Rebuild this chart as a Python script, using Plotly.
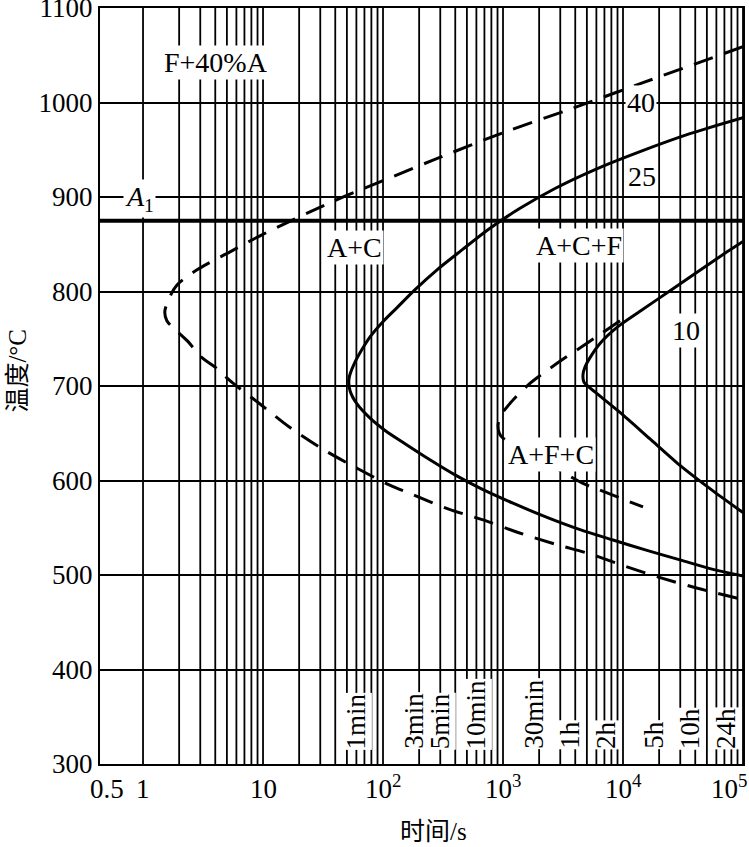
import math
import plotly.graph_objects as go

# ---------------- data (time in s, temperature in °C) ----------------
A1_TEMP = 875

c40_t = [1e5, 14680, 3830, 1000, 261, 94.4, 36.2, 9.8, 5.31, 2.82, 1.92, 1.68, 1.52, 1.58,
         1.92, 2.33, 3.10, 3.98, 5.62, 9.44, 16.8, 31.6, 60.7, 114, 178, 348, 695, 1334,
         2660, 5410, 10590, 20740, 41770, 1e5]
c40_T = [1059, 1021, 994, 968, 939, 916, 894, 860, 842, 823, 807, 795, 779, 769,
         758, 748, 730, 720, 703, 681, 656, 633, 613, 595, 585, 570, 558, 545,
         533, 522, 509, 497, 486, 474]

c25_t = [1e5, 36140, 13860, 5845, 2712, 1386, 779, 455, 282, 185, 131, 98.1, 78, 65.6,
         57.3, 52.1, 53.1, 60.7, 78, 104, 152.5, 246, 398, 643, 1211, 2326, 4385, 8250,
         15850, 29850, 56230, 1e5]
c25_T = [984, 967, 948, 929, 909, 888, 867, 844, 823, 802, 783, 767, 752, 737,
         723, 708, 695, 681, 666, 653, 639, 622, 606, 592, 576, 561, 548, 537,
         526, 516, 506, 499]

c10_t = [1e5, 73600, 26100, 13860, 8910, 6430, 5310, 4820, 4640, 4730, 6070, 9440,
         16790, 29850, 56230, 1e5]
c10_T = [853, 842, 803, 779, 762, 745, 730, 720, 712, 704, 692, 672,
         644, 616, 589, 566]

c10d_t = [9440, 5110, 2820, 1616, 1189, 962, 909, 962, 2113, 4640, 6683, 14680]
c10d_T = [769, 746, 724, 701, 684, 669, 658, 647, 622, 597, 589, 572]

y_tick_vals = [300, 400, 500, 600, 700, 800, 900, 1000, 1100]
x_tick_vals = [0.5, 1, 10, 100, 1000, 10000, 100000]
x_tick_text = ["0.5", "1", "10", "10<sup>2</sup>", "10<sup>3</sup>", "10<sup>4</sup>",
               "10<sup>5</sup>"]

time_mark_vals = [60, 180, 300, 600, 1800, 3600, 7200, 18000, 36000, 86400]
time_mark_text = ["1min", "3min", "5min", "10min", "30min", "1h", "2h", "5h", "10h", "24h"]

region_text = ["F+40%A", "<i>A</i><sub>1</sub>", "A+C", "A+C+F", "40", "25", "10", "A+F+C"]
region_t = [4.06, 0.93, 58.4, 4300, 14100, 14400, 33500, 2510]
region_T = [1042, 898, 847, 849, 1000, 922, 759, 628]

grid_decades = [1, 10, 100, 1000, 10000]
grid_mult = [1, 2, 3, 4, 5, 6, 7, 8, 9]
T_MIN, T_MAX = 300, 1100
TIME_MAX = 1e5
TIME_MIN = 0.438

SERIF = "Liberation Serif, Times New Roman, serif"
CJK = "Liberation Serif, Noto Sans CJK SC, serif"

fig = go.Figure()

# vertical grid lines (1..9 per decade)
gx, gy = [], []
for d in grid_decades:
    for m in grid_mult:
        v = d * m
        gx += [v, v, None]
        gy += [T_MIN, T_MAX, None]
gx += [TIME_MAX, TIME_MAX, None]
gy += [T_MIN, T_MAX, None]
fig.add_trace(go.Scatter(x=gx, y=gy, mode="lines", line=dict(color="black", width=1.8),
                         hoverinfo="skip", showlegend=False))

curve_style = dict(color="black", width=3)
fig.add_trace(go.Scatter(x=c40_t, y=c40_T, mode="lines", line_shape="spline",
                         line=dict(curve_style, dash="20px,12px", smoothing=0.9), showlegend=False))
fig.add_trace(go.Scatter(x=c25_t, y=c25_T, mode="lines", line_shape="spline",
                         line=dict(curve_style, smoothing=0.9), showlegend=False))
fig.add_trace(go.Scatter(x=c10_t, y=c10_T, mode="lines", line_shape="spline",
                         line=dict(curve_style, smoothing=0.6), showlegend=False))
fig.add_trace(go.Scatter(x=c10d_t, y=c10d_T, mode="lines", line_shape="spline",
                         line=dict(curve_style, dash="20px,12px", smoothing=0.9), showlegend=False))

# A1 line
fig.add_shape(type="line", xref="paper", x0=0, x1=1, yref="y", y0=A1_TEMP, y1=A1_TEMP,
              line=dict(color="black", width=4))

# region labels
for txt, t, T in zip(region_text, region_t, region_T):
    fig.add_annotation(x=math.log10(t), y=T, text=txt, showarrow=False,
                       font=dict(family=SERIF, size=28, color="black"),
                       bgcolor="white", borderpad=1, xanchor="center", yanchor="middle")

# time marks (24h nudged left to stay inside the frame, as in the reference)
time_shift = {"24h": -10}
for txt, t in zip(time_mark_text, time_mark_vals):
    fig.add_annotation(x=math.log10(t), y=T_MIN, text=txt, showarrow=False, textangle=-90,
                       font=dict(family=SERIF, size=27, color="black"),
                       bgcolor="white", borderpad=0, xanchor="center", yanchor="bottom",
                       yshift=14, xshift=time_shift.get(txt, 0))

# x tick labels (last one kept inside the picture like the reference)
for i, (v, txt) in enumerate(zip(x_tick_vals, x_tick_text)):
    last = i == len(x_tick_vals) - 1
    fig.add_annotation(x=math.log10(v), xref="x", yref="paper", y=0, text=txt,
                       showarrow=False, font=dict(family=SERIF, size=27, color="black"),
                       xanchor="right" if last else "center", yanchor="bottom",
                       xshift=6 if last else 0, yshift=-42)

# axis titles
fig.add_annotation(xref="paper", x=0.518, yref="paper", y=-0.089, text="时间/s",
                   showarrow=False, font=dict(family=CJK, size=25, color="black"),
                   xanchor="center", yanchor="middle")
fig.add_annotation(xref="paper", x=-0.128, yref="paper", y=0.52, text="温度/°C",
                   textangle=-90, showarrow=False, font=dict(family=CJK, size=25, color="black"),
                   xanchor="center", yanchor="middle")

fig.update_xaxes(type="log", range=[math.log10(TIME_MIN), math.log10(TIME_MAX)],
                 showticklabels=False, ticks="",
                 showgrid=False, zeroline=False, showline=True, mirror=True,
                 linecolor="black", linewidth=2, automargin=False)
fig.update_yaxes(range=[T_MIN, T_MAX], tickmode="array", tickvals=y_tick_vals, showgrid=True,
                 gridcolor="black", gridwidth=1.8, zeroline=False, showline=True, mirror=True,
                 linecolor="black", linewidth=2, ticks="", automargin=False,
                 ticklabeloverflow="allow",
                 tickfont=dict(family=SERIF, size=27, color="black"))

fig.update_layout(width=749, height=847, margin=dict(l=100, r=6, t=8, b=83),
                  paper_bgcolor="white", plot_bgcolor="white", showlegend=False)

fig.write_html("out.html", config={"displayModeBar": False},
               post_script="document.body.style.margin='0';")
